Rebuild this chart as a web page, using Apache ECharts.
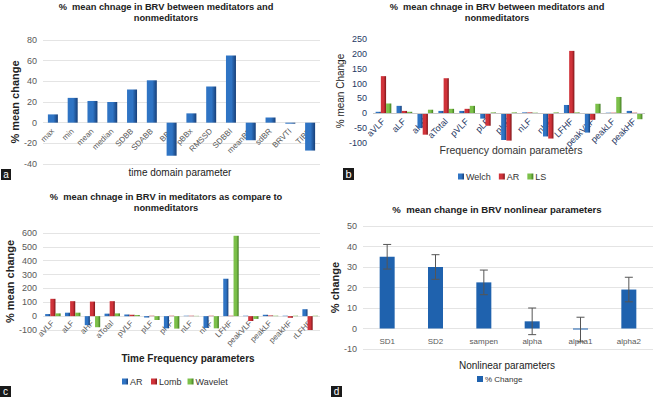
<!DOCTYPE html>
<html><head><meta charset="utf-8">
<script src="https://cdn.jsdelivr.net/npm/echarts@6/dist/echarts.min.js"></script>
<style>html,body{margin:0;padding:0;background:#fff}#c{width:658px;height:397px}</style>
</head><body><div id="c"></div>
<script>
// Panel a
var catsA = ['max','min','mean','median','SDBB','SDABB','BBx','pBBx','RMSSD','SDBBI','meanBR','sdBR','BRVTI','TIBR'];
var valsA = [8,24,21,20,32,41,-32,9,35,65,-17,5,-1,-27];
// Panel b
var catsB = ['aVLF','aLF','aHF','aTotal','pVLF','pLF','pHF','nLF','nHF','LFHF','peakVLF','peakLF','peakHF'];
var welchB = [5,25,-50,8,8,-18,-90,3,-78,28,-65,2,8];
var arB    = [125,8,-72,118,15,-42,-92,3,-85,210,-22,2,2];
var lsB    = [33,5,12,15,25,3,3,2,3,3,32,55,-20];
// Panel c
var catsC = ['aVLF','aLF','aHF','aTotal','pVLF','pLF','pHF','nLF','nHF','LFHF','peakVLF','peakLF','peakHF','rLFHF'];
var arC      = [15,25,-65,18,12,-10,-88,3,-85,270,3,10,3,50];
var lombC    = [125,108,105,108,10,3,3,3,3,3,-35,5,-12,-100];
var waveletC = [20,25,-80,20,8,-28,-90,2,-88,580,-20,3,3,3];
// Panel d
var catsD = ['SD1','SD2','sampen','alpha','alpha1','alpha2'];
var valsD = [35,30,22.5,3.5,-0.5,19];
var errD  = [6,6,6,6.5,6,6];

function grad(light, dark){
  return new echarts.graphic.LinearGradient(0,0,1,0,[{offset:0,color:light},{offset:0.55,color:light},{offset:1,color:dark}]);
}
var BLUE = grad('#2f74c4','#173f78');
var RED = grad('#d0333a','#7e1418');
var GREEN = grad('#7cc04a','#3f7a1f');

var FONT = 'Liberation Sans';
function tStyle(fs){ return {fontSize:fs, fontWeight:'bold', color:'#222', fontFamily:FONT, lineHeight:11}; }

function yAxis(gi, min, max, interval, name, bold, color, showSplit, gap, nfs){
  return {type:'value', gridIndex:gi, min:min, max:max, interval:interval,
    name:name, nameLocation:'middle', nameGap:gap||21, nameRotate:90,
    nameTextStyle:{fontSize:nfs||11, fontWeight: bold?'bold':'normal', color:'#222', fontFamily:FONT},
    axisLine:{show:false}, axisTick:{show:false},
    axisLabel:{color:color||'#595959', fontSize:9, fontFamily:FONT, margin:6},
    splitLine:{show:showSplit!==false, lineStyle:{color:'#e4e4e4', width:1}}};
}
function xAxis(gi, cats, rotate, color, fs, margin){
  return {type:'category', gridIndex:gi, data:cats,
    axisLine:{show:false, onZero:false}, axisTick:{show:false},
    axisLabel:{interval:0, rotate:rotate, color:color||'#595959', fontSize:fs||8, fontFamily:FONT, margin:margin}};
}
function txt(s, x, y, font, fill){
  return {type:'text', style:{text:s, x:x, y:y, font:font, fill:fill||'#222', align:'center', verticalAlign:'middle', textAlign:'center', textVerticalAlign:'middle'}};
}
function box(x,y,w,h){ return {type:'rect', shape:{x:x,y:y,width:w,height:h}, style:{fill:'#1a1a1a'}}; }

var chart = echarts.init(document.getElementById('c'), null, {renderer:'svg'});
var option = {
  animation:false,
  backgroundColor:'#fff',
  title:[
    {text:'%  mean chnage in BRV between meditators and\nnonmeditators', left:166, top:1, padding:0, textAlign:'center', textStyle:tStyle(9.3)},
    {text:'%  mean chnage in BRV between meditators and\nnonmeditators', left:497, top:1, padding:0, textAlign:'center', textStyle:tStyle(9.3)},
    {text:'%  mean chnage in BRV in meditators as compare to\nnonmeditators', left:166, top:191, padding:0, textAlign:'center', textStyle:tStyle(9.3)},
    {text:'%  mean change in BRV nonlinear parameters', left:497, top:204, padding:0, textAlign:'center', textStyle:tStyle(9.6)}
  ],
  legend:[
    {data:['Welch','AR','LS'], left:458, top:172, itemWidth:6, itemHeight:6, itemGap:8, icon:'rect', padding:0,
      textStyle:{fontSize:9, color:'#333', fontFamily:FONT, padding:[0,0,0,-3]}},
    {data:['AR ','Lomb','Wavelet'], left:122, top:377, itemWidth:6, itemHeight:6, itemGap:6, icon:'rect', padding:0,
      textStyle:{fontSize:9, color:'#333', fontFamily:FONT, padding:[0,0,0,-3]}},
    {data:['% Change'], left:477, top:375, itemWidth:6, itemHeight:6, icon:'rect', padding:0,
      textStyle:{fontSize:8, color:'#333', fontFamily:FONT, padding:[0,0,0,-3]}}
  ],
  grid:[
    {left:43, top:40, width:277, height:124},
    {left:373, top:39, width:272, height:104},
    {left:43, top:233, width:277, height:97},
    {left:363, top:226, width:290, height:123}
  ],
  xAxis:[
    xAxis(0, catsA, 45, '#595959', 8, -34),
    xAxis(1, catsB, 45, '#1f3864', 9, -23),
    xAxis(2, catsC, 45, '#595959', 8, -8),
    xAxis(3, catsD, 0, '#595959', 8, -12)
  ],
  yAxis:[
    yAxis(0,-40,80,20,'% mean change',true),
    yAxis(1,-100,250,50,'% mean Change',false,'#1f3864',false,24,10),
    yAxis(2,-100,600,100,'% mean change',true),
    yAxis(3,-10,50,10,'% change',true)
  ],
  graphic:[
    txt('time domain parameter', 180, 172, '10px '+FONT),
    txt('Frequency domain parameters', 511, 150, '10.5px '+FONT, '#333'),
    txt('Time Frequency parameters', 188, 358, 'bold 10px '+FONT),
    txt('Nonlinear parameters', 507, 365, '10px '+FONT),
    box(1,169,10,11), txt('a', 6, 174.5, '10px '+FONT, '#fff'),
    box(343,168,11,12), txt('b', 348.5, 174, '11px '+FONT, '#fff'),
    box(0,386,11,11), txt('c', 5.5, 391.5, '10px '+FONT, '#fff'),
    box(331,386,11,11), txt('d', 336.5, 391.5, '10px '+FONT, '#fff')
  ],
  series:[
    {type:'bar', xAxisIndex:0, yAxisIndex:0, data:valsA, barWidth:10, itemStyle:{color:BLUE}},
    {name:'Welch', type:'bar', xAxisIndex:1, yAxisIndex:1, data:welchB, barGap:'0%', barCategoryGap:'25%', itemStyle:{color:BLUE},
      markLine:{silent:true, symbol:'none', label:{show:false}, lineStyle:{color:'#c8c8c8', type:'solid', width:1}, data:[{yAxis:0}]}},
    {name:'AR', type:'bar', xAxisIndex:1, yAxisIndex:1, data:arB, barGap:'0%', barCategoryGap:'25%', itemStyle:{color:RED}},
    {name:'LS', type:'bar', xAxisIndex:1, yAxisIndex:1, data:lsB, barGap:'0%', barCategoryGap:'25%', itemStyle:{color:GREEN}},
    {name:'AR ', type:'bar', xAxisIndex:2, yAxisIndex:2, data:arC, barGap:'0%', barCategoryGap:'22%', itemStyle:{color:BLUE}},
    {name:'Lomb', type:'bar', xAxisIndex:2, yAxisIndex:2, data:lombC, barGap:'0%', barCategoryGap:'22%', itemStyle:{color:RED}},
    {name:'Wavelet', type:'bar', xAxisIndex:2, yAxisIndex:2, data:waveletC, barGap:'0%', barCategoryGap:'22%', itemStyle:{color:GREEN}},
    {name:'% Change', type:'bar', xAxisIndex:3, yAxisIndex:3, data:valsD, barWidth:15, itemStyle:{color:'#1f62ae'}},
    {type:'custom', xAxisIndex:3, yAxisIndex:3, silent:true,
      data: valsD.map(function(v,i){return [i, v-errD[i], v+errD[i]];}),
      renderItem:function(params, api){
        var lo = api.coord([api.value(0), api.value(1)]);
        var hi = api.coord([api.value(0), api.value(2)]);
        var hw = 4;
        var st = {stroke:'#555', lineWidth:1};
        return {type:'group', children:[
          {type:'line', shape:{x1:hi[0],y1:hi[1],x2:lo[0],y2:lo[1]}, style:st},
          {type:'line', shape:{x1:hi[0]-hw,y1:hi[1],x2:hi[0]+hw,y2:hi[1]}, style:st},
          {type:'line', shape:{x1:lo[0]-hw,y1:lo[1],x2:lo[0]+hw,y2:lo[1]}, style:st}
        ]};
      }, z:5}
  ]
};
chart.setOption(option);
</script></body></html>
